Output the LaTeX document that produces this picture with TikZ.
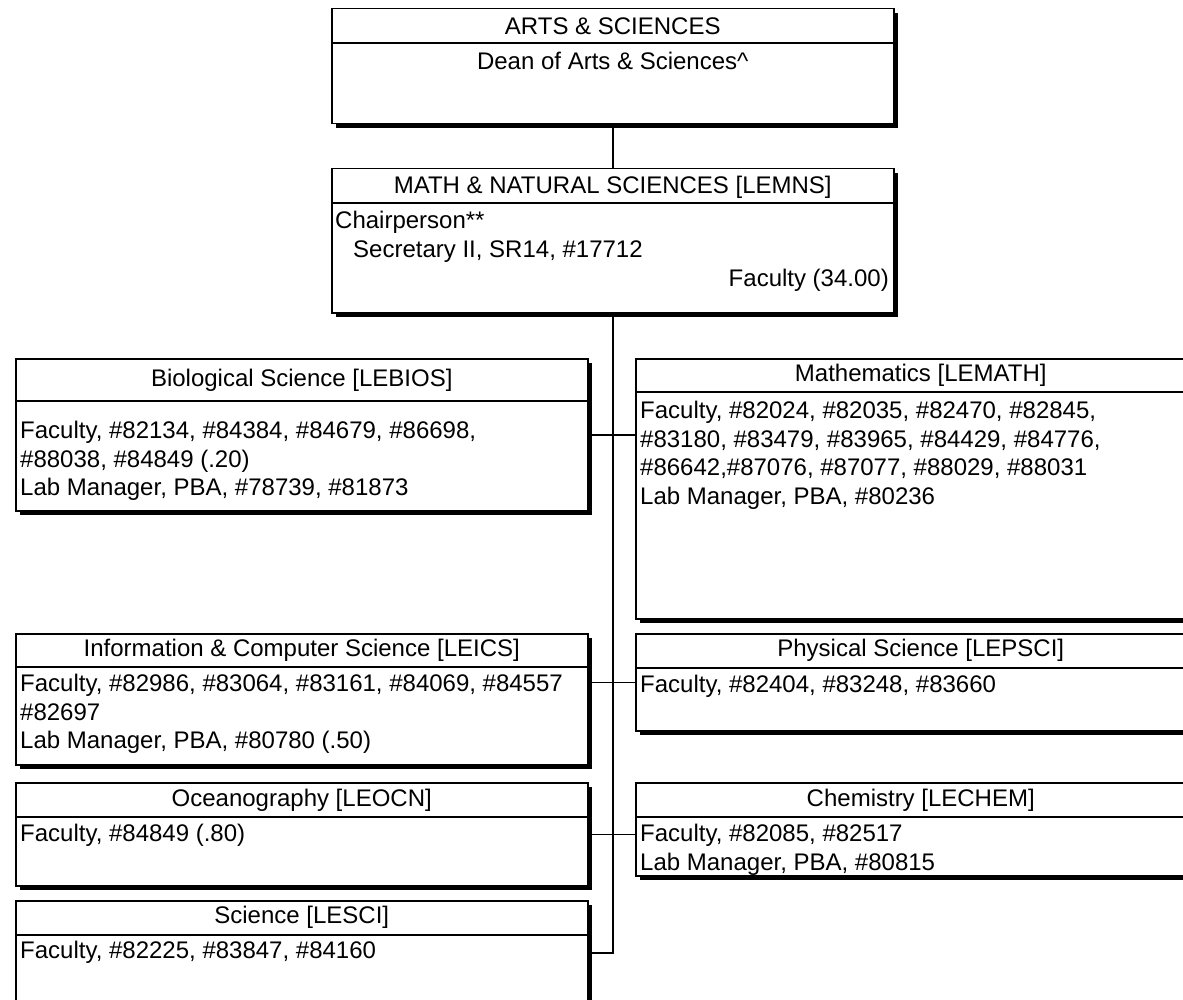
\documentclass[tikz,border=0pt]{standalone}
\usepackage{fontspec}
\setmainfont{Liberation Sans}
\usetikzlibrary{shadows}

\tikzset{
  unit/.style={draw, line width=1.5pt, fill=white, anchor=north west, inner sep=0pt,
    drop shadow={shadow xshift=4pt, shadow yshift=-4pt, fill=black, opacity=1}},
  title/.style={font=\fontsize{24}{28}\selectfont, inner sep=0pt},
  body/.style={font=\fontsize{24}{28.5}\selectfont, inner sep=0pt, anchor=north west, align=left},
  rule/.style={line width=1.5pt},
  link/.style={line width=1.5pt}
}

\begin{document}
\begin{tikzpicture}[x=1pt,y=-1pt]
  \useasboundingbox (0,0) rectangle (1183,1000);
  % boxes
  \node[unit, minimum width=562pt, minimum height=115pt] (arts) at (331,8) {};
  \node[unit, minimum width=562pt, minimum height=144pt] (mns) at (331,168) {};
  \node[unit, minimum width=572pt, minimum height=152pt] (bios) at (15,358) {};
  \node[unit, minimum width=570pt, minimum height=260pt] (math) at (635,358) {};
  \node[unit, minimum width=572pt, minimum height=131pt] (ics) at (15,633) {};
  \node[unit, minimum width=570pt, minimum height=97pt] (psci) at (635,633) {};
  \node[unit, minimum width=572pt, minimum height=103pt] (ocn) at (15,782) {};
  \node[unit, minimum width=570pt, minimum height=93pt] (chem) at (635,782) {};
  \node[unit, minimum width=572pt, minimum height=104pt] (sci) at (15,900) {};
  % header rules
  \draw[rule] ([yshift=-35pt]arts.north west) -- ([yshift=-35pt]arts.north east);
  \draw[rule] ([yshift=-35pt]mns.north west) -- ([yshift=-35pt]mns.north east);
  \draw[rule] ([yshift=-43pt]bios.north west) -- ([yshift=-43pt]bios.north east);
  \draw[rule] ([yshift=-34pt]math.north west) -- ([yshift=-34pt]math.north east);
  \draw[rule] ([yshift=-34pt]ics.north west) -- ([yshift=-34pt]ics.north east);
  \draw[rule] ([yshift=-35pt]psci.north west) -- ([yshift=-35pt]psci.north east);
  \draw[rule] ([yshift=-35pt]ocn.north west) -- ([yshift=-35pt]ocn.north east);
  \draw[rule] ([yshift=-35pt]chem.north west) -- ([yshift=-35pt]chem.north east);
  \draw[rule] ([yshift=-35pt]sci.north west) -- ([yshift=-35pt]sci.north east);
  % titles
  \node[title] (arts-t) at ([yshift=-18pt]arts.north) {ARTS \& SCIENCES};
  \node[title] (arts-d) at ([yshift=-53pt]arts.north) {Dean of Arts \& Sciences\textasciicircum};
  \node[title] (mns-t) at ([yshift=-19pt]mns.north) {MATH \& NATURAL SCIENCES [LEMNS]};
  \node[title] (bios-t) at ([yshift=-22pt]bios.north) {Biological Science [LEBIOS]};
  \node[title] (math-t) at ([yshift=-17pt]math.north) {Mathematics [LEMATH]};
  \node[title] (ics-t) at ([yshift=-17pt]ics.north) {Information \& Computer Science [LEICS]};
  \node[title] (psci-t) at ([yshift=-17pt]psci.north) {Physical Science [LEPSCI]};
  \node[title] (ocn-t) at ([yshift=-18pt]ocn.north) {Oceanography [LEOCN]};
  \node[title] (chem-t) at ([yshift=-18pt]chem.north) {Chemistry [LECHEM]};
  \node[title] (sci-t) at ([yshift=-17pt]sci.north) {Science [LESCI]};
  % contents
  \node[body] (mns-b) at (335,211) {Chairperson**\\\hspace*{18pt}Secretary II, SR14, \#17712};
  \node[title, anchor=east] (mns-f) at (889,280) {Faculty (34.00)};
  \node[body] (bios-b) at (20,421) {Faculty, \#82134, \#84384, \#84679, \#86698,\\
    \#88038, \#84849 (.20)\\Lab Manager, PBA, \#78739, \#81873};
  \node[body] (math-b) at (640,401) {Faculty, \#82024, \#82035, \#82470, \#82845,\\
    \#83180, \#83479, \#83965, \#84429, \#84776,\\
    \#86642,\#87076, \#87077, \#88029, \#88031\\Lab Manager, PBA, \#80236};
  \node[body] (ics-b) at (20,674) {Faculty, \#82986, \#83064, \#83161, \#84069, \#84557\\
    \#82697\\Lab Manager, PBA, \#80780 (.50)};
  \node[body] (psci-b) at (640,675) {Faculty, \#82404, \#83248, \#83660};
  \node[body] (ocn-b) at (20,824) {Faculty, \#84849 (.80)};
  \node[body] (chem-b) at (640,824) {Faculty, \#82085, \#82517\\Lab Manager, PBA, \#80815};
  \node[body] (sci-b) at (20,941) {Faculty, \#82225, \#83847, \#84160};
  % connectors
  \draw[link] (arts.south) -- (mns.north);
  \draw[link] (mns.south) |- (sci.east);
  \draw[link] (bios.east) -- (bios.east -| math.west);
  \draw[link] (psci.west) -- (psci.west -| ics.east);
  \draw[link] (ocn.east) -- (ocn.east -| chem.west);
\end{tikzpicture}
\end{document}
